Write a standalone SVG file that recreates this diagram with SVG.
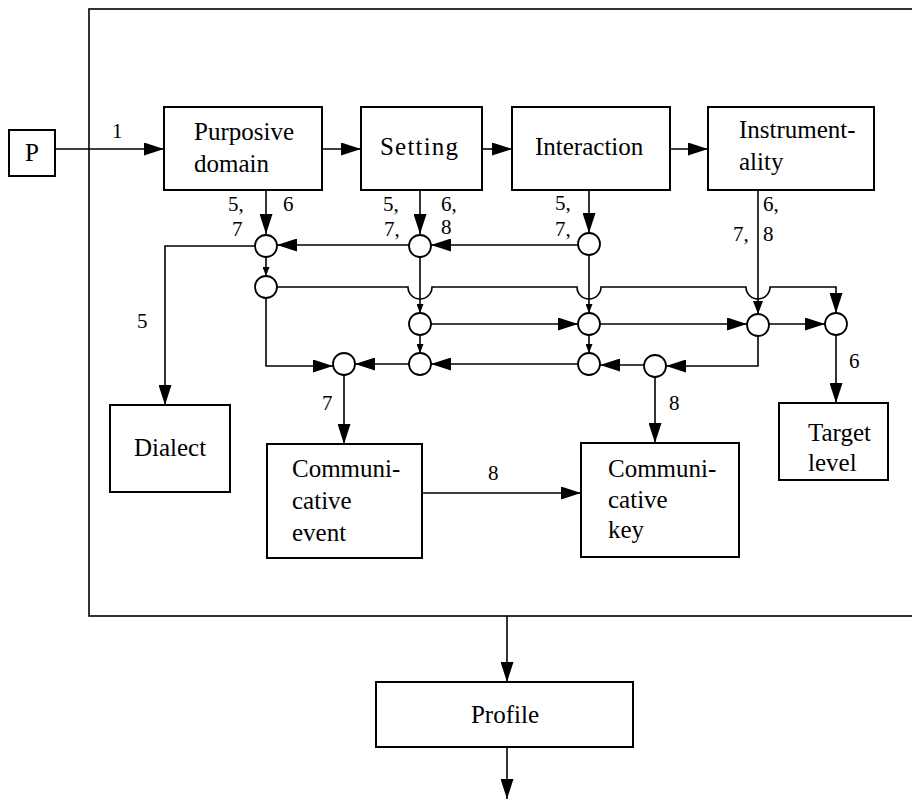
<svg xmlns="http://www.w3.org/2000/svg" width="912" height="800" viewBox="0 0 912 800">
<style>
.box{fill:#fff;stroke:#000;stroke-width:2}
.frame{fill:none;stroke:#000;stroke-width:1.6}
.c{fill:#fff;stroke:#000;stroke-width:1.8}
.ln{fill:none;stroke:#000;stroke-width:1.6}
.t{font-family:"Liberation Serif","Times New Roman",serif;font-size:25px;fill:#000}
.n{font-family:"Liberation Serif","Times New Roman",serif;font-size:21px;fill:#000}
</style>
<defs>
<marker id="big" markerUnits="userSpaceOnUse" markerWidth="20" markerHeight="13" refX="20" refY="6.5" orient="auto"><path d="M0,0 L20,6.5 L0,13 z" fill="#000"/></marker>
<marker id="med" markerUnits="userSpaceOnUse" markerWidth="13" markerHeight="10" refX="13" refY="5" orient="auto"><path d="M0,0 L13,5 L0,10 z" fill="#000"/></marker>
<marker id="sm" markerUnits="userSpaceOnUse" markerWidth="9" markerHeight="7" refX="9" refY="3.5" orient="auto"><path d="M0,0 L9,3.5 L0,7 z" fill="#000"/></marker>
</defs>

<g id="frame"><rect class="frame" x="89" y="9" width="840" height="607"/></g>

<g id="connectors">
<path class="ln" d="M55,149 H164" marker-end="url(#big)"/>
<path class="ln" d="M322,149 H361" marker-end="url(#big)"/>
<path class="ln" d="M482,149 H512" marker-end="url(#big)"/>
<path class="ln" d="M670,149 H708" marker-end="url(#big)"/>
<path class="ln" d="M266,190 V234" marker-end="url(#big)"/>
<path class="ln" d="M420,190 V234" marker-end="url(#big)"/>
<path class="ln" d="M589,190 V233" marker-end="url(#big)"/>
<path class="ln" d="M758,190 V314" marker-end="url(#med)"/>
<path class="ln" d="M409,245 H277" marker-end="url(#big)"/>
<path class="ln" d="M578,245 H431" marker-end="url(#big)"/>
<path class="ln" d="M255,246 H165 V405" marker-end="url(#big)"/>
<path class="ln" d="M266,257 V276" marker-end="url(#sm)"/>
<path class="ln" d="M420,257 V313" marker-end="url(#sm)"/>
<path class="ln" d="M589,255 V313" marker-end="url(#sm)"/>
<path class="ln" d="M277,287 H408 A12,12 0 0 0 432,287 H577 A12,12 0 0 0 601,287 H746 A12,12 0 0 0 770,287 H836 V313" marker-end="url(#big)"/>
<path class="ln" d="M431,324 H578" marker-end="url(#big)"/>
<path class="ln" d="M600,324 H747" marker-end="url(#big)"/>
<path class="ln" d="M769,324 H825" marker-end="url(#big)"/>
<path class="ln" d="M420,335 V353" marker-end="url(#sm)"/>
<path class="ln" d="M589,335 V353" marker-end="url(#sm)"/>
<path class="ln" d="M758,336 V366 H666" marker-end="url(#big)"/>
<path class="ln" d="M644,365 H600" marker-end="url(#big)"/>
<path class="ln" d="M578,364 H431" marker-end="url(#big)"/>
<path class="ln" d="M409,364 H355" marker-end="url(#big)"/>
<path class="ln" d="M266,298 V366 H333" marker-end="url(#big)"/>
<path class="ln" d="M836,335 V403" marker-end="url(#big)"/>
<path class="ln" d="M344,375 V444" marker-end="url(#big)"/>
<path class="ln" d="M655,377 V443" marker-end="url(#big)"/>
<path class="ln" d="M422,493 H581" marker-end="url(#big)"/>
<path class="ln" d="M507,616 V682" marker-end="url(#big)"/>
<path class="ln" d="M507,747 V799" marker-end="url(#big)"/>
<text class="n" x="112" y="138">1</text>
<text class="n" x="228" y="211">5,</text>
<text class="n" x="283" y="211">6</text>
<text class="n" x="232" y="236">7</text>
<text class="n" x="383" y="211">5,</text>
<text class="n" x="441" y="211">6,</text>
<text class="n" x="384" y="236">7,</text>
<text class="n" x="441" y="234">8</text>
<text class="n" x="555" y="210">5,</text>
<text class="n" x="555" y="236">7,</text>
<text class="n" x="763" y="211">6,</text>
<text class="n" x="733" y="241">7,</text>
<text class="n" x="763" y="241">8</text>
<text class="n" x="137" y="328">5</text>
<text class="n" x="849" y="368">6</text>
<text class="n" x="322" y="410">7</text>
<text class="n" x="669" y="410">8</text>
<text class="n" x="488" y="480">8</text>
</g>

<g id="junctions">
<circle class="c" cx="266" cy="246" r="11"/>
<circle class="c" cx="420" cy="246" r="11"/>
<circle class="c" cx="589" cy="244" r="11"/>
<circle class="c" cx="266" cy="287" r="11"/>
<circle class="c" cx="420" cy="324" r="11"/>
<circle class="c" cx="589" cy="324" r="11"/>
<circle class="c" cx="758" cy="325" r="11"/>
<circle class="c" cx="836" cy="324" r="11"/>
<circle class="c" cx="420" cy="364" r="11"/>
<circle class="c" cx="589" cy="364" r="11"/>
<circle class="c" cx="344" cy="364" r="11"/>
<circle class="c" cx="655" cy="366" r="11"/>
</g>

<g id="P"><rect class="box" x="9" y="130" width="46" height="46"/><text class="t" x="32" y="161" text-anchor="middle">P</text></g>
<g id="purposive"><rect class="box" x="164" y="107" width="158" height="83"/><text class="t" x="194" y="140">Purposive</text><text class="t" x="194" y="172">domain</text></g>
<g id="setting"><rect class="box" x="361" y="107" width="121" height="83"/><text class="t" x="380" y="155" textLength="78" lengthAdjust="spacing">Setting</text></g>
<g id="interaction"><rect class="box" x="512" y="107" width="158" height="83"/><text class="t" x="535" y="155">Interaction</text></g>
<g id="instrumentality"><rect class="box" x="708" y="107" width="166" height="83"/><text class="t" x="739" y="138">Instrument-</text><text class="t" x="739" y="170">ality</text></g>
<g id="dialect"><rect class="box" x="110" y="405" width="120" height="87"/><text class="t" x="170" y="456" text-anchor="middle">Dialect</text></g>
<g id="event"><rect class="box" x="267" y="444" width="155" height="114"/><text class="t" x="292" y="477">Communi-</text><text class="t" x="292" y="509">cative</text><text class="t" x="292" y="541">event</text></g>
<g id="key"><rect class="box" x="581" y="443" width="158" height="114"/><text class="t" x="608" y="477">Communi-</text><text class="t" x="608" y="508">cative</text><text class="t" x="608" y="538">key</text></g>
<g id="target"><rect class="box" x="779" y="403" width="109" height="77"/><text class="t" x="808" y="441">Target</text><text class="t" x="808" y="471">level</text></g>
<g id="profile"><rect class="box" x="376" y="682" width="257" height="65"/><text class="t" x="505" y="723" text-anchor="middle">Profile</text></g>
</svg>
